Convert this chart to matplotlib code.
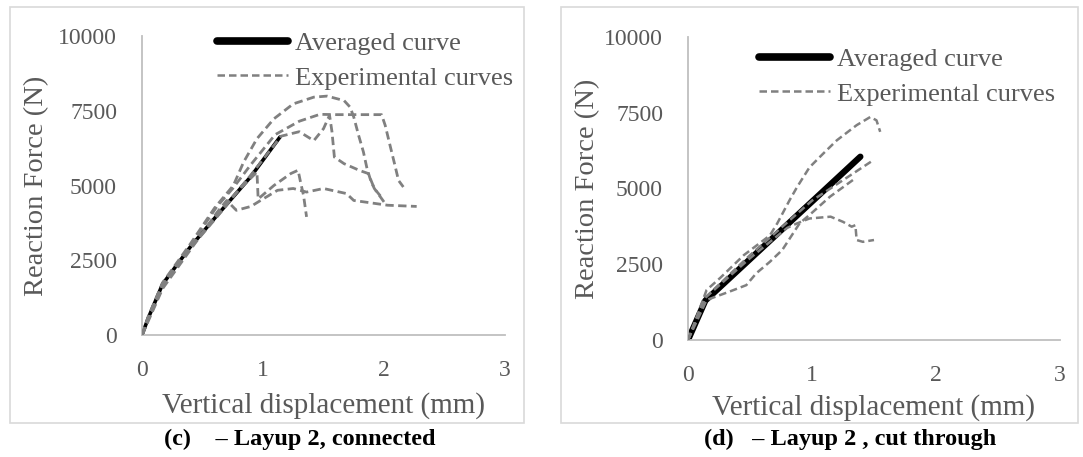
import matplotlib
matplotlib.use("Agg")
import matplotlib.pyplot as plt
from matplotlib.lines import Line2D
from matplotlib.patches import Rectangle

plt.rcParams['font.family'] = ['Liberation Serif', 'DejaVu Serif']

# ---------------- data: (c) Layup 2, connected ----------------
c_avg_x = [0, 0.05, 0.17, 0.40, 0.62, 0.90, 1.14]
c_avg_y = [0, 550, 1700, 2950, 4000, 5300, 6620]

c_exp_x = [
    [0, 0.05, 0.17, 0.40, 0.60, 0.755, 0.84, 0.95, 1.09, 1.25, 1.42, 1.53, 1.67, 1.72, 1.75, 1.79, 1.83, 1.86, 1.89, 1.92, 1.97, 2.00],
    [0, 0.05, 0.17, 0.40, 0.62, 0.75, 0.90, 1.10, 1.30, 1.47, 1.60, 1.98, 2.01, 2.05, 2.09, 2.12, 2.16],
    [0, 0.05, 0.17, 0.40, 0.62, 0.90, 1.15, 1.30, 1.42, 1.50, 1.55, 1.57, 1.59, 1.67, 1.80, 1.87, 1.92, 1.97],
    [0, 0.05, 0.17, 0.40, 0.62, 0.80, 0.95, 0.96, 1.09, 1.23, 1.29, 1.31, 1.335, 1.36],
    [0, 0.05, 0.17, 0.40, 0.62, 0.70, 0.78, 0.90, 0.98, 1.12, 1.25, 1.36, 1.50, 1.69, 1.75, 2.03, 2.27],
]
c_exp_y = [
    [0, 600, 1750, 3050, 4250, 5000, 5785, 6565, 7230, 7730, 7955, 7990, 7840, 7620, 7290, 6680, 6120, 5560, 5170, 4900, 4620, 4450],
    [0, 500, 1650, 3000, 4300, 4900, 5700, 6700, 7150, 7380, 7370, 7370, 7010, 6340, 5680, 5170, 4950],
    [0, 550, 1700, 2950, 4000, 5350, 6650, 6800, 6500, 6900, 7350, 6800, 5950, 5730, 5500, 5400, 4900, 4650],
    [0, 500, 1600, 2900, 3950, 4850, 5450, 4550, 5000, 5400, 5510, 5120, 4670, 3950],
    [0, 450, 1550, 2850, 4100, 4500, 4170, 4300, 4500, 4840, 4900, 4780, 4900, 4730, 4500, 4340, 4300],
]

# ---------------- data: (d) Layup 2, cut through ----------------
d_avg_x = [0, 0.14, 1.39]
d_avg_y = [0, 1300, 6050]

d_exp_x = [
    [0, 0.15, 0.26, 0.45, 0.66, 0.72, 0.82, 0.88, 0.98, 1.09, 1.20, 1.36, 1.47, 1.52, 1.55],
    [0, 0.14, 0.50, 1.00, 1.50],
    [0, 0.15, 0.33, 0.47, 0.55, 0.66, 0.76, 0.90, 1.00, 1.145, 1.33],
    [0, 0.14, 0.50, 0.80, 0.88, 0.98, 1.15, 1.25, 1.32, 1.35, 1.36, 1.41, 1.50],
]
d_exp_y = [
    [0, 1650, 2050, 2800, 3450, 3850, 4620, 5050, 5700, 6150, 6590, 7090, 7360, 7250, 6870],
    [0, 1400, 2800, 4600, 5950],
    [0, 1320, 1590, 1810, 2200, 2580, 2970, 3850, 4200, 4730, 5280],
    [0, 1400, 2700, 3700, 3850, 4010, 4070, 3900, 3740, 3790, 3300, 3240, 3300],
]

x_ticks = [0, 1, 2, 3]
y_ticks = [0, 2500, 5000, 7500, 10000]

W, H = 1083, 457
fig = plt.figure(figsize=(W / 100, H / 100), dpi=100)

grey_txt = '#595959'
dash_col = '#808080'


def px_box(l, t, r, b):
    return [l / W, 1 - b / H, (r - l) / W, (b - t) / H]


def setup(ax, ylab_x, xlab_y):
    ax.set_xlim(0, 3)
    ax.set_ylim(0, 10000)
    ax.set_xticks(x_ticks)
    ax.set_yticks(y_ticks)
    for s in ['top', 'right']:
        ax.spines[s].set_visible(False)
    for s in ['left', 'bottom']:
        ax.spines[s].set_color('#bfbfbf')
        ax.spines[s].set_linewidth(1.3)
    ax.tick_params(length=0, pad=18, labelsize=17, labelcolor=grey_txt)
    ax.set_xlabel('Vertical displacement (mm)', fontsize=21, color=grey_txt)
    ax.set_ylabel('Reaction Force (N)', fontsize=20.5, color=grey_txt)
    ax.yaxis.set_label_coords(ylab_x, 0.5)
    ax.xaxis.set_label_coords(0.5, xlab_y)


def draw(ax, ax_x, ax_y, exp_x, exp_y, avg_lw, exp_lw):
    ax.plot(ax_x, ax_y, color='black', lw=avg_lw, solid_capstyle='round', zorder=2)
    for xs, ys in zip(exp_x, exp_y):
        ax.plot(xs, ys, color=dash_col, lw=exp_lw, dashes=(3, 1.6), zorder=3)


def legend(ax, fx, fy):
    handles = [Line2D([], [], color='black', lw=5.5, solid_capstyle='round'),
               Line2D([], [], color=dash_col, lw=1.8, dashes=(3, 1.6))]
    ax.legend(handles, ['Averaged curve', 'Experimental curves'],
              loc='upper left', bbox_to_anchor=(fx / W, 1 - fy / H),
              bbox_transform=fig.transFigure, frameon=False, fontsize=19,
              labelcolor=grey_txt, handlelength=2.7, handletextpad=0.25,
              borderpad=0, borderaxespad=0, labelspacing=0.4)


# panel frames
fig.patches.append(Rectangle((10 / W, 1 - 423 / H), 514 / W, 416 / H, transform=fig.transFigure,
                             fill=False, edgecolor='#d9d9d9', lw=1.2))
fig.patches.append(Rectangle((561 / W, 1 - 423 / H), 517 / W, 416 / H, transform=fig.transFigure,
                             fill=False, edgecolor='#d9d9d9', lw=1.2))

ax1 = fig.add_axes(px_box(142, 36, 505, 335))
setup(ax1, -0.255, -0.19)
draw(ax1, c_avg_x, c_avg_y, c_exp_x, c_exp_y, 2.6, 2.0)
legend(ax1, 217, 32)

ax2 = fig.add_axes(px_box(688, 37, 1060, 340))
setup(ax2, -0.235, -0.178)
draw(ax2, d_avg_x, d_avg_y, d_exp_x, d_exp_y, 4.5, 1.8)
legend(ax2, 759, 48)

fig.text(300 / W, 1 - 439 / H, '(c)    \u2013 Layup 2, connected', ha='center', va='center',
         fontsize=17.5, fontweight='bold', color='black')
fig.text(850 / W, 1 - 439 / H, '(d)   \u2013 Layup 2 , cut through', ha='center', va='center',
         fontsize=17.5, fontweight='bold', color='black')

fig.savefig('out.png', dpi=100)
